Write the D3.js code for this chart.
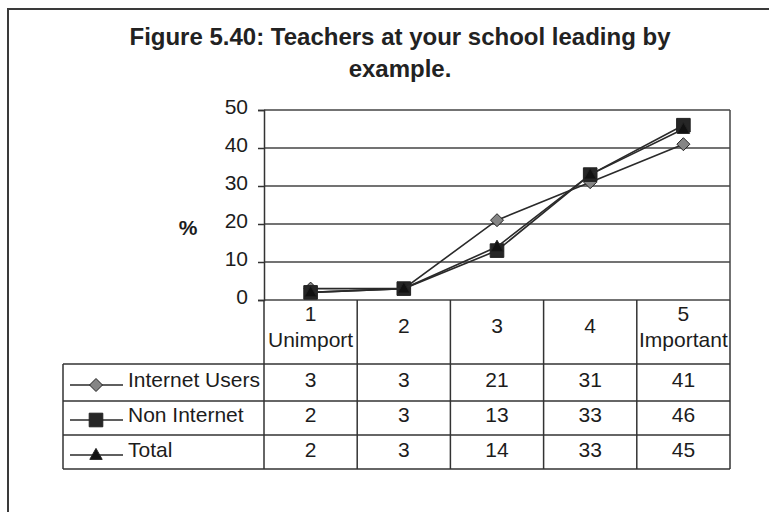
<!DOCTYPE html>
<html>
<head>
<meta charset="utf-8">
<script src="https://cdn.jsdelivr.net/npm/d3@7"></script>
<style>
  html, body { margin: 0; padding: 0; background: #fff; }
  svg { display: block; font-family: "Liberation Sans", Arial, sans-serif; }
</style>
</head>
<body>
<svg id="chart" width="769" height="512"></svg>
<script>
// Survey ratings: teachers leading by example (percent of respondents)
const categoryTop = ["1", "2", "3", "4", "5"];
const categorySub = ["Unimport", "", "", "", "Important"];
const seriesNames = ["Internet Users", "Non Internet", "Total"];
const internetUsers = [3, 3, 21, 31, 41];
const nonInternet = [2, 3, 13, 33, 46];
const total = [2, 3, 14, 33, 45];
const yTicks = [0, 10, 20, 30, 40, 50];

const seriesValues = [internetUsers, nonInternet, total];
const markerKinds = ["diamond", "square", "triangle"];
const markerFill = ["#858585", "#262626", "#111"];

const svg = d3.select("#chart");
const ink = "#333";
const textInk = "#1c1c1c";

// layout
const plotLeft = 264, plotRight = 730, plotTop = 110, plotBottom = 300;
const tableLeft = 63;
const rowEdges = [300, 364, 401, 435, 469];

const x = d3.scaleBand().domain(categoryTop).range([plotLeft, plotRight]);
const y = d3.scaleLinear().domain([0, 50]).range([plotBottom, plotTop]);

// outer frame
svg.append("path")
  .attr("d", "M8,512 V9 H769")
  .attr("fill", "none").attr("stroke", "#3a3a3a").attr("stroke-width", 2);

// title
const title = svg.append("text")
  .attr("text-anchor", "middle")
  .attr("font-weight", "bold").attr("font-size", 24).attr("fill", "#222");
title.append("tspan").attr("x", 400).attr("y", 45).text("Figure 5.40: Teachers at your school leading by");
title.append("tspan").attr("x", 400).attr("y", 77).text("example.");

// gridlines
svg.append("g").selectAll("line").data(yTicks).join("line")
  .attr("x1", plotLeft).attr("x2", plotRight)
  .attr("y1", d => y(d)).attr("y2", d => y(d))
  .attr("stroke", "#444").attr("stroke-width", 1.5);

// plot right border
svg.append("line")
  .attr("x1", plotRight).attr("x2", plotRight).attr("y1", plotTop).attr("y2", plotBottom)
  .attr("stroke", "#444").attr("stroke-width", 1.5);

// y axis
const yAxis = svg.append("g")
  .attr("transform", `translate(${plotLeft},0)`)
  .call(d3.axisLeft(y).tickValues(yTicks).tickSize(6).tickPadding(10).tickFormat(d3.format("d")));
yAxis.select(".domain").attr("stroke", "#333").attr("stroke-width", 1.5);
yAxis.selectAll(".tick line").attr("stroke", "#333").attr("stroke-width", 1.5);
yAxis.selectAll(".tick text")
  .attr("font-size", 21).attr("fill", textInk).attr("font-family", "Liberation Sans, Arial, sans-serif")
  .attr("dy", null).attr("y", 3);

// y axis title
svg.append("text")
  .attr("x", 188).attr("y", 235).attr("text-anchor", "middle")
  .attr("font-size", 21).attr("font-weight", "bold").attr("fill", textInk)
  .text("%");

// marker shapes
function markerPath(kind, cx, cy) {
  if (kind === "diamond") {
    const r = 6.5;
    return `M${cx},${cy - r} L${cx + r},${cy} L${cx},${cy + r} L${cx - r},${cy} Z`;
  }
  if (kind === "square") {
    const h = 6.8;
    return `M${cx - h},${cy - h} H${cx + h} V${cy + h} H${cx - h} Z`;
  }
  const w = 6.2, ht = 11;
  return `M${cx},${cy - ht * 0.6} L${cx + w},${cy + ht * 0.4} L${cx - w},${cy + ht * 0.4} Z`;
}

// series lines and markers
const line = d3.line()
  .x((d, i) => x(categoryTop[i]) + x.bandwidth() / 2)
  .y(d => y(d));

seriesValues.forEach((vals, s) => {
  const g = svg.append("g");
  g.append("path").attr("d", line(vals))
    .attr("fill", "none").attr("stroke", "#2a2a2a").attr("stroke-width", 1.6);
  g.selectAll("path.m").data(vals).join("path").attr("class", "m")
    .attr("d", (d, i) => markerPath(markerKinds[s], x(categoryTop[i]) + x.bandwidth() / 2, y(d)))
    .attr("fill", markerFill[s]).attr("stroke", "#222").attr("stroke-width", 1);
});

// data table grid
const grid = svg.append("g").attr("stroke", ink).attr("stroke-width", 1.5);
// horizontal rules of the series rows
rowEdges.slice(1).forEach(ry => {
  grid.append("line").attr("x1", tableLeft).attr("x2", plotRight).attr("y1", ry).attr("y2", ry);
});
// category column dividers
const colEdges = categoryTop.map(c => x(c)).concat([plotRight]);
colEdges.forEach(cx => {
  grid.append("line").attr("x1", cx).attr("x2", cx).attr("y1", plotBottom).attr("y2", rowEdges[4]);
});
// table left edge
grid.append("line").attr("x1", tableLeft).attr("x2", tableLeft).attr("y1", rowEdges[1]).attr("y2", rowEdges[4]);

// category header labels
const header = svg.append("g").attr("font-size", 21).attr("fill", textInk).attr("text-anchor", "middle");
categoryTop.forEach((c, i) => {
  const cx = x(c) + x.bandwidth() / 2;
  if (categorySub[i]) {
    header.append("text").attr("x", cx).attr("y", 321).text(c);
    header.append("text").attr("x", cx).attr("y", 347).text(categorySub[i]);
  } else {
    header.append("text").attr("x", cx).attr("y", 333).text(c);
  }
});

// series rows: legend key, name, values
const rowBaselines = [387, 422, 457];
seriesNames.forEach((name, s) => {
  const by = rowBaselines[s];
  const ky = by - 2;
  const g = svg.append("g");
  g.append("line").attr("x1", 70).attr("x2", 123).attr("y1", ky).attr("y2", ky)
    .attr("stroke", "#2a2a2a").attr("stroke-width", 1.6);
  g.append("path").attr("d", markerPath(markerKinds[s], 96, ky))
    .attr("fill", markerFill[s]).attr("stroke", "#222").attr("stroke-width", 1);
  g.append("text").attr("x", 128).attr("y", by).attr("font-size", 21).attr("fill", textInk).text(name);
  g.selectAll("text.v").data(seriesValues[s]).join("text").attr("class", "v")
    .attr("x", (d, i) => x(categoryTop[i]) + x.bandwidth() / 2)
    .attr("y", by).attr("text-anchor", "middle").attr("font-size", 21).attr("fill", textInk)
    .text(d => d);
});
</script>
</body>
</html>
